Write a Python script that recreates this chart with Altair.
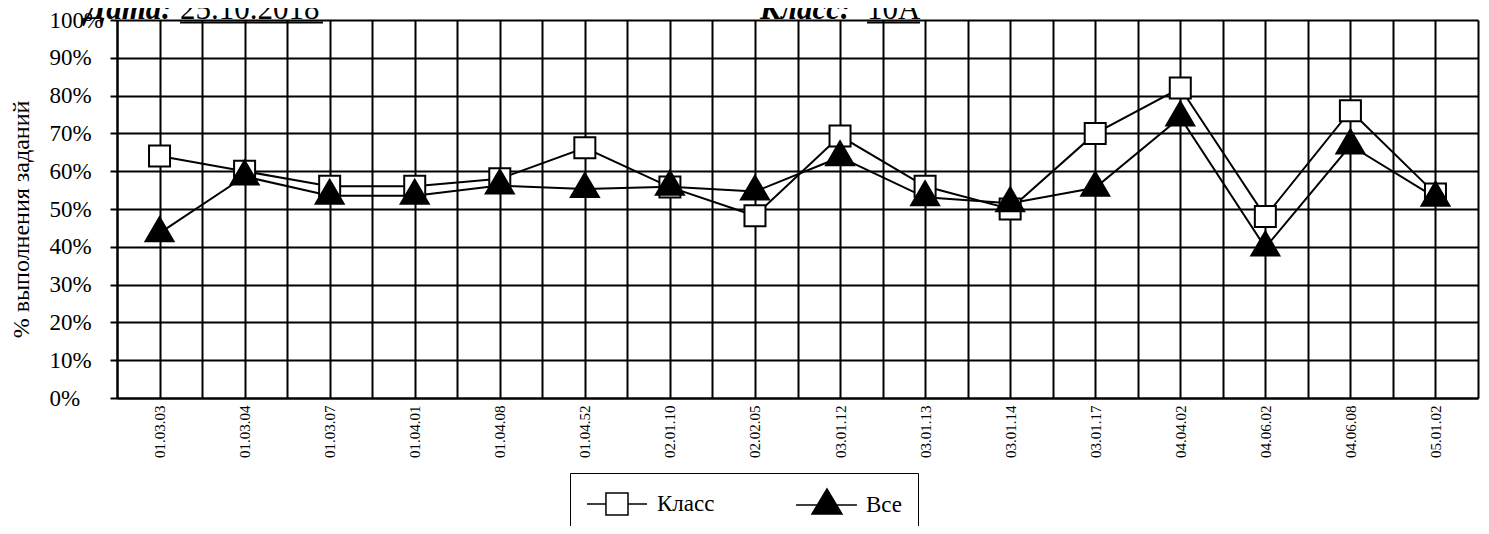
import altair as alt
import pandas as pd

categories = ["01.03.03", "01.03.04", "01.03.07", "01.04.01", "01.04.08", "01.04.52",
              "02.01.10", "02.02.05", "03.01.12", "03.01.13", "03.01.14", "03.01.17",
              "04.04.02", "04.06.02", "04.06.08", "05.01.02"]
klass = [0.64, 0.60, 0.56, 0.56, 0.58, 0.662, 0.558, 0.482, 0.693, 0.56, 0.50, 0.70,
         0.82, 0.48, 0.76, 0.54]
vse = [0.436, 0.586, 0.535, 0.535, 0.562, 0.553, 0.559, 0.546, 0.637, 0.531, 0.515, 0.556,
       0.742, 0.398, 0.668, 0.530]
series_names = ["Класс", "Все"]
y_ticks = [0.0, 0.1, 0.2, 0.3, 0.4, 0.5, 0.6, 0.7, 0.8, 0.9, 1.0]
x_grid = [-0.5, 0, 0.5, 1, 1.5, 2, 2.5, 3, 3.5, 4, 4.5, 5, 5.5, 6, 6.5, 7, 7.5, 8, 8.5,
          9, 9.5, 10, 10.5, 11, 11.5, 12, 12.5, 13, 13.5, 14, 14.5, 15, 15.5]

rows = []
for s, vals in zip(series_names, [klass, vse]):
    for i, (c, v) in enumerate(zip(categories, vals)):
        rows.append({"series": s, "idx": i, "cat": c, "value": v})
df = pd.DataFrame(rows)

FONT = "Liberation Serif, Times New Roman, serif"
W, H = 1361, 378

square_path = "M-0.75,-0.75L0.75,-0.75L0.75,0.75L-0.75,0.75Z"
tri_path = "M0,-1.14L1,0.57L-1,0.57Z"
leg_sq = "M-0.93,0L0.33,0M0.33,-0.73L1.8,-0.73L1.8,0.73L0.33,0.73ZM1.8,0L3.07,0"
leg_tri = "M-0.93,0L3.13,0M1.13,-1.07L2.13,0.6L0.13,0.6Z"

names_js = "[" + ",".join("'%s'" % c for c in categories) + "]"

x_enc = alt.X("idx:Q",
              scale=alt.Scale(domain=[-0.5, 15.5], nice=False, zero=False),
              axis=alt.Axis(values=x_grid, grid=True, gridColor="black", gridWidth=2,
                            gridOpacity=1, ticks=False, domain=True, domainColor="black",
                            domainWidth=2, labelAngle=270, labelFont=FONT, labelFontSize=15,
                            labelColor="black", labelPadding=7, labelOverlap=False,
                            labelExpr="datum.value % 1 === 0 ? " + names_js + "[datum.value] : ''",
                            title=None))
y_enc = alt.Y("value:Q",
              scale=alt.Scale(domain=[0, 1], nice=False, zero=True),
              axis=alt.Axis(values=y_ticks, format=".0%", grid=True, gridColor="black",
                            gridWidth=2, gridOpacity=1, tickSize=7, tickColor="black",
                            tickWidth=2, domainColor="black", domainWidth=2,
                            labelFont=FONT, labelFontSize=23, labelColor="black",
                            labelAlign="left", labelPadding=61, labelBaseline="middle",
                            labelOverlap=False, labelBound=False, labelFlush=False,
                            title="% выполнения заданий", titleFont=FONT, titleFontSize=24,
                            titleFontWeight="normal", titleColor="black", titleAngle=270,
                            titleX=-96, titleY=199, titleAlign="center",
                            titleBaseline="middle"))

lines = alt.Chart(df).mark_line(color="black", strokeWidth=2).encode(
    x=x_enc, y=y_enc, detail="series:N")

pts_klass = alt.Chart(df).transform_filter("datum.series === 'Класс'").mark_point(
    filled=True, fill="white", stroke="black", strokeWidth=2, size=784, opacity=1,
    shape=square_path).encode(x=x_enc, y=y_enc)
pts_vse = alt.Chart(df).transform_filter("datum.series === 'Все'").mark_point(
    filled=True, fill="black", stroke="black", strokeWidth=2, size=784, opacity=1,
    shape=tri_path).encode(x=x_enc, y=y_enc)

leg = alt.Legend(title=None, orient="none", legendX=453, legendY=453,
                 direction="horizontal", padding=15, strokeColor="black", columnPadding=78,
                 labelFont=FONT, labelFontSize=23, labelColor="black", labelOffset=40,
                 symbolSize=900, symbolStrokeWidth=1.5, symbolStrokeColor="black",
                 symbolOpacity=1)

legend_layer = alt.Chart(df).transform_filter("false").mark_point(
    filled=True, strokeWidth=1.5, opacity=1).encode(
    x=x_enc, y=y_enc,
    shape=alt.Shape("series:N",
                    scale=alt.Scale(domain=series_names, range=[leg_sq, leg_tri]),
                    legend=leg),
    fill=alt.Fill("series:N", scale=alt.Scale(domain=series_names, range=["white", "black"]),
                  legend=leg),
    stroke=alt.Stroke("series:N", scale=alt.Scale(domain=series_names, range=["black", "black"]),
                      legend=leg),
)

hdr = pd.DataFrame({"t": ["x"]})
def txt(s, x, bold_italic):
    kw = dict(font=FONT, fontSize=31, color="black", align="left", baseline="alphabetic")
    if bold_italic:
        kw.update(fontWeight="bold", fontStyle="italic")
    return alt.Chart(hdr).mark_text(text=s, **kw).encode(x=alt.value(x), y=alt.value(-1))

def uline(x1, x2):
    return alt.Chart(hdr).mark_rule(color="black", strokeWidth=2).encode(
        x=alt.value(x1), x2=alt.value(x2), y=alt.value(2.5))

chart = alt.layer(
    lines, pts_klass, pts_vse, legend_layer,
    txt("Дата:", -32, True), txt("25.10.2018", 63, False),
    txt("Класс:", 643, True), txt("10А", 750, False),
    uline(63, 206), uline(750, 803),
).properties(
    width=W, height=H,
    autosize=alt.AutoSizeParams(type="none"),
    padding={"left": 109, "top": 12, "right": 3, "bottom": 128},
).configure_view(stroke="black", strokeWidth=2).configure_legend(
    strokeWidth=2).configure(background="white", font=FONT)

chart.save("out.html", embed_options={"renderer": "svg", "actions": False})
